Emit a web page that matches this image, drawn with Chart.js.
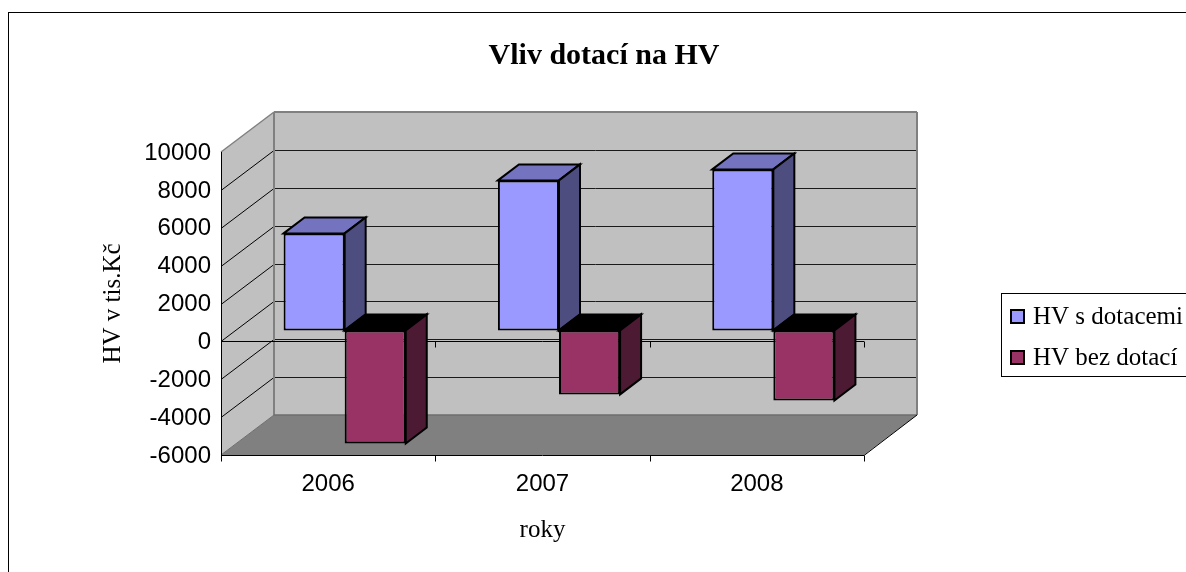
<!DOCTYPE html>
<html>
<head>
<meta charset="utf-8">
<style>
body { margin: 0; background: #fff; overflow: hidden; }
canvas { display: block; }
</style>
<script src="https://cdn.jsdelivr.net/npm/chart.js@4"></script>
</head>
<body>
<canvas id="myChart" width="1186" height="572"></canvas>
<script>
const years = ['2006', '2007', '2008'];
const hvDotace = [5120, 7920, 8500];
const hvBezDotaci = [-5970, -3380, -3700];
const seriesNames = ['HV s dotacemi', 'HV bez dotací'];

// depth of the fake 3D box and of the bars
const wallDx = 53, wallDy = -40;
const barShiftX = 16.5, barShiftY = -11;
const barDx = 21, barDy = -16;

const serif = '"Liberation Serif", "Times New Roman", serif';
const sans = '"Liberation Sans", Arial, sans-serif';

function poly(ctx, pts, fill, stroke, lw) {
    ctx.beginPath();
    pts.forEach((p, i) => i ? ctx.lineTo(p[0], p[1]) : ctx.moveTo(p[0], p[1]));
    ctx.closePath();
    if (fill) { ctx.fillStyle = fill; ctx.fill(); }
    if (stroke) { ctx.strokeStyle = stroke; ctx.lineWidth = lw || 1; ctx.stroke(); }
}

function line(ctx, x1, y1, x2, y2, color, lw) {
    ctx.beginPath();
    ctx.moveTo(x1, y1);
    ctx.lineTo(x2, y2);
    ctx.strokeStyle = color;
    ctx.lineWidth = lw || 1;
    ctx.stroke();
}

const box3d = {
    id: 'box3d',
    beforeDatasetsDraw(chart) {
        const ctx = chart.ctx, a = chart.chartArea, xs = chart.scales.x, ys = chart.scales.y;
        const l = a.left, r = a.right, t = a.top, b = a.bottom;
        ctx.save();
        // outer frame, runs off the page on the right and bottom
        ctx.strokeStyle = '#000';
        ctx.lineWidth = 1;
        ctx.strokeRect(8.5, 12.5, 1300, 700);

        poly(ctx, [[l + wallDx, t + wallDy], [r + wallDx, t + wallDy], [r + wallDx, b + wallDy], [l + wallDx, b + wallDy]], '#C0C0C0');
        poly(ctx, [[l, t], [l + wallDx, t + wallDy], [l + wallDx, b + wallDy], [l, b]], '#C0C0C0');
        poly(ctx, [[l, b], [l + wallDx, b + wallDy], [r + wallDx, b + wallDy], [r, b]], '#808080');

        ys.ticks.forEach(tick => {
            const y = Math.round(ys.getPixelForValue(tick.value)) + 0.5;
            if (tick.value === ys.min || tick.value === ys.max) return;
            line(ctx, l + wallDx, y + wallDy, r + wallDx, y + wallDy, '#1a1a1a');
            line(ctx, l, y, l + wallDx, y + wallDy, '#000');
        });

        // grey outline of the walls
        const grey = '#808080';
        line(ctx, l, t, l + wallDx, t + wallDy, grey, 1.5);
        line(ctx, l + wallDx, t + wallDy, r + wallDx, t + wallDy, grey, 2);
        line(ctx, l + wallDx, t + wallDy, l + wallDx, b + wallDy, grey, 2);
        line(ctx, r + wallDx, t + wallDy, r + wallDx, b + wallDy, grey, 2);
        line(ctx, l + wallDx, b + wallDy, r + wallDx, b + wallDy, '#6e6e6e', 1.5);
        line(ctx, l, b, l + wallDx, b + wallDy, '#6e6e6e', 1);
        line(ctx, r, b + 0.5, r + wallDx, b + wallDy, '#000');

        // front axes
        const zero = Math.round(ys.getPixelForValue(0)) + 0.5;
        const bottom = Math.round(b) + 0.5;
        line(ctx, l + 0.5, t, l + 0.5, b, '#000');
        line(ctx, l, bottom, r, bottom, '#000');
        line(ctx, l, zero, r, zero, '#000');
        years.forEach((y, i) => {
            const px = Math.round(xs.getPixelForValue(i + 0.5)) + 0.5;
            line(ctx, px, zero, px, zero + 6, '#000');
            line(ctx, px, bottom, px, bottom + 6, '#000');
        });
        line(ctx, l + 0.5, bottom, l + 0.5, bottom + 6, '#000');
        ctx.restore();
    },
    beforeDatasetDraw(chart) {
        chart.ctx.save();
        chart.ctx.translate(barShiftX, barShiftY);
    },
    afterDatasetDraw(chart) {
        chart.ctx.restore();
    },
    afterDatasetsDraw(chart) {
        // top and side faces go last, second series over first
        const ctx = chart.ctx;
        ctx.save();
        ctx.translate(barShiftX, barShiftY);
        chart.data.datasets.forEach((ds, i) => {
            chart.getDatasetMeta(i).data.forEach(bar => {
                const x1 = bar.x - bar.width / 2, x2 = bar.x + bar.width / 2;
                const top = Math.min(bar.y, bar.base), bot = Math.max(bar.y, bar.base);
                poly(ctx, [[x1, top], [x1 + barDx, top + barDy], [x2 + barDx, top + barDy], [x2, top]], ds.topColor, '#000', 2);
                poly(ctx, [[x2, top], [x2 + barDx, top + barDy], [x2 + barDx, bot + barDy], [x2, bot]], ds.sideColor, '#000', 2);
            });
        });
        ctx.restore();
    },
    afterDraw(chart) {
        // legend box is cut by the page edge like in the picture
        const ctx = chart.ctx;
        ctx.save();
        ctx.strokeStyle = '#000';
        ctx.lineWidth = 1;
        ctx.strokeRect(1001.5, 293.5, 300, 83);
        ctx.font = '25px ' + serif;
        ctx.textBaseline = 'middle';
        chart.data.datasets.forEach((ds, i) => {
            const y = 316 + i * 41;
            ctx.fillStyle = ds.backgroundColor;
            ctx.fillRect(1011, y - 6, 13, 13);
            ctx.strokeStyle = '#000';
            ctx.lineWidth = 2;
            ctx.strokeRect(1011, y - 6, 13, 13);
            ctx.fillStyle = '#000';
            ctx.fillText(ds.label, 1033, y + 1);
        });
        ctx.restore();
    },
    afterLayout(chart) {
        // title is centred at x=604, not on the plot
        const tb = chart.titleBlock;
        tb.left = 2 * 604 - tb.right;
    }
};

const ctx = document.getElementById('myChart').getContext('2d');
const myChart = new Chart(ctx, {
    type: 'bar',
    data: {
        labels: years,
        datasets: [{
            label: seriesNames[0],
            data: hvDotace,
            backgroundColor: '#9999FF',
            topColor: '#7373BF',
            sideColor: '#4D4D80',
            borderColor: '#000',
            borderWidth: 2,
            borderSkipped: false
        }, {
            label: seriesNames[1],
            data: hvBezDotaci,
            backgroundColor: '#993366',
            topColor: '#000',
            sideColor: '#4D1A33',
            borderColor: '#000',
            borderWidth: 2,
            borderSkipped: false
        }]
    },
    plugins: [box3d],
    options: {
        responsive: false,
        animation: false,
        events: [],
        layout: { padding: { left: 0, right: 322, top: 0, bottom: 0 } },
        datasets: { bar: { categoryPercentage: 0.57, barPercentage: 1, clip: false } },
        plugins: {
            legend: { display: false },
            tooltip: { enabled: false },
            title: {
                display: true,
                text: 'Vliv dotací na HV',
                color: '#000',
                font: { family: serif, size: 30, weight: 'bold', lineHeight: 1.2 },
                padding: { top: 38, bottom: 78 }
            }
        },
        scales: {
            x: {
                grid: { display: false },
                border: { display: false },
                ticks: { color: '#000', font: { family: sans, size: 24 }, padding: 7 },
                title: {
                    display: true,
                    text: 'roky',
                    color: '#000',
                    font: { family: serif, size: 25 },
                    padding: { top: 0, bottom: 27 }
                },
                afterFit(s) { s.height = 117; }
            },
            y: {
                min: -6000,
                max: 10000,
                grid: { display: false },
                border: { display: false },
                ticks: {
                    stepSize: 2000,
                    color: '#000',
                    font: { family: sans, size: 24 },
                    padding: 2,
                    labelOffset: 1,
                    callback: v => String(v)
                },
                title: {
                    display: true,
                    text: 'HV v tis.Kč',
                    color: '#000',
                    font: { family: serif, size: 25 },
                    padding: { top: 98, bottom: 0 }
                },
                afterFit(s) { s.width = 221; }
            }
        }
    }
});
</script>
</body>
</html>
